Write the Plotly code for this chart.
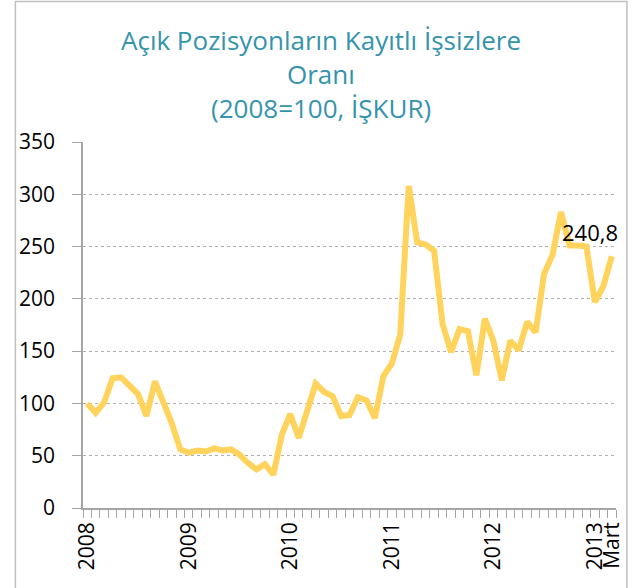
import plotly.graph_objects as go

# Data (monthly, Jan 2008 .. Mar 2013)
values = [100, 91, 101, 124, 125, 116, 109, 88, 121, 101, 81, 56,
          53, 55, 54, 57, 55, 56, 51, 43, 37, 42, 32, 70,
          90, 67, 93, 119, 111, 107, 88, 89, 106, 103, 86, 126,
          138, 166, 308, 254, 252, 246, 176, 149, 171, 169, 127, 181,
          160, 122, 160, 151, 178, 168, 224, 242, 283, 251, 251, 250,
          197, 212, 240.8]
label_positions = [0, 12, 24, 36, 48, 60, 62]
label_texts = ["2008", "2009", "2010", "2011", "2012", "2013", "Mart"]
title_lines = ["Açık Pozisyonların Kayıtlı İşsizlere", "Oranı", "(2008=100, İŞKUR)"]
last_label = "240,8"

n = len(values)
xs = list(range(n))

fig = go.Figure()
fig.add_trace(go.Scatter(x=xs, y=values, mode="lines",
                         line=dict(color="#FFD35C", width=6),
                         showlegend=False, hoverinfo="skip"))
# invisible trace to activate overlay axis
fig.add_trace(go.Scatter(x=xs, y=values, xaxis="x2", mode="lines",
                         line=dict(width=0), opacity=0,
                         showlegend=False, hoverinfo="skip"))

FONT = "'Open Sans', Lato, sans-serif"
AXC = "#A6A6A6"

fig.update_layout(
    width=637, height=588,
    margin=dict(l=83, r=18, t=142, b=80),
    paper_bgcolor="white", plot_bgcolor="white",
    font=dict(family=FONT, color="black", size=21),
    xaxis=dict(range=[-0.5, n - 0.5], tickmode="array",
               tickvals=[i - 0.5 for i in range(n + 1)],
               ticktext=[""] * (n + 1),
               ticks="outside", ticklen=8, tickcolor=AXC, tickwidth=1,
               showgrid=False, zeroline=False,
               showline=True, linecolor=AXC, linewidth=1.5),
    xaxis2=dict(range=[-0.5, n - 0.5], overlaying="x", anchor="y", side="bottom",
                tickmode="array", tickvals=label_positions, ticktext=label_texts,
                tickangle=-90, ticks="", showgrid=False, zeroline=False,
                showline=False, tickfont=dict(size=21, family=FONT, color="black"),
                ticklabelstandoff=9),
    yaxis=dict(range=[0, 350], tickmode="linear", tick0=0, dtick=50,
               ticks="outside", ticklen=9, tickcolor=AXC, tickwidth=1,
               showline=True, linecolor=AXC, linewidth=1.5,
               showgrid=True, gridcolor="#B0B0B0", griddash="dot", gridwidth=1,
               zeroline=False, tickfont=dict(size=21, family=FONT, color="black"),
               ticklabelstandoff=13),
)

# frame around the chart
fig.add_shape(type="rect", xref="paper", yref="paper",
              x0=(15 - 83) / 536, x1=(630 - 83) / 536,
              y0=(508 - 600) / 366, y1=(508 - 1.5) / 366,
              line=dict(color="#BFBFBF", width=1.5), fillcolor="rgba(0,0,0,0)",
              layer="below")

# title lines
title_y = [40, 74, 108]
for txt, yy in zip(title_lines, title_y):
    fig.add_annotation(text=txt, xref="paper", yref="paper",
                       x=(322 - 83) / 536, y=(508 - yy) / 366,
                       xanchor="center", yanchor="middle", showarrow=False,
                       font=dict(family=FONT, size=26, color="#3594AC"))

# data label for last point
fig.add_annotation(text=last_label, x=xs[-1], y=values[-1], xref="x", yref="y",
                   showarrow=False, xanchor="center", yanchor="middle",
                   xshift=-22, yshift=24,
                   font=dict(family=FONT, size=22, color="black"))

fig.write_html("out.html", config={"displayModeBar": False},
               post_script="document.body.style.margin='0';document.body.style.overflow='hidden';")
